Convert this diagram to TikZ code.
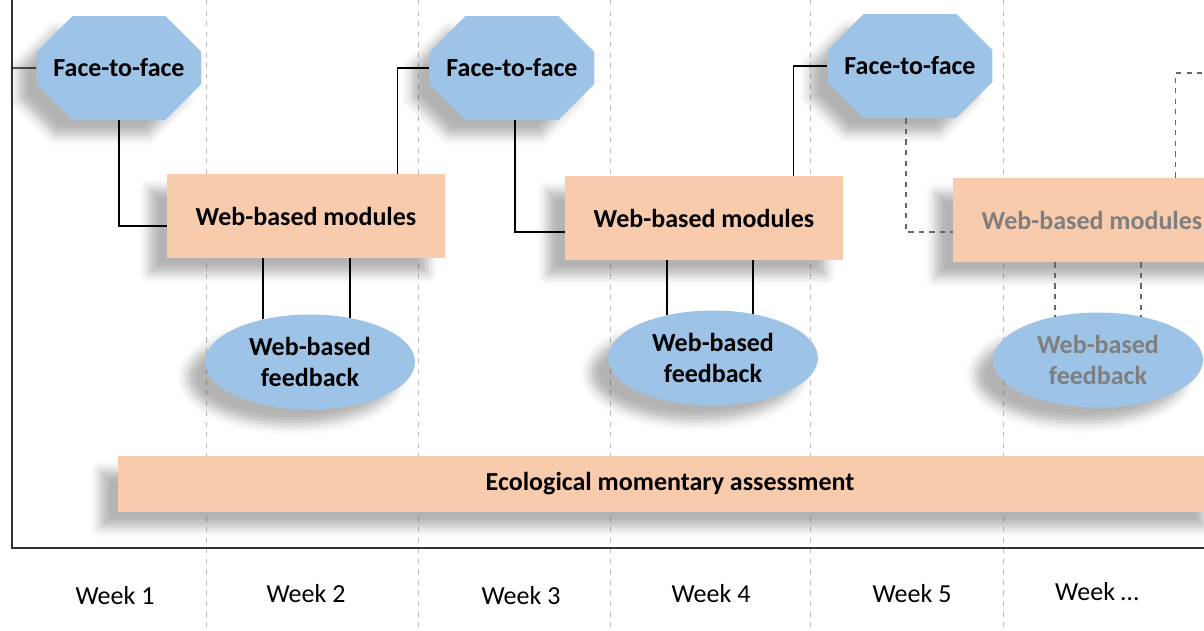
\documentclass[tikz,border=0pt]{standalone}
\usepackage{fontspec}
\setmainfont{Carlito}
\usetikzlibrary{calc}
\usetikzlibrary{shapes.misc}
\usetikzlibrary{shapes.geometric}
\usetikzlibrary{shadows.blur}
\definecolor{ftfblue}{RGB}{157,195,230}
\definecolor{modpeach}{RGB}{248,203,173}
\definecolor{fadetext}{RGB}{127,127,127}
\tikzset{
	softshadow/.style={blur shadow={shadow xshift=-0.35cm,shadow yshift=-0.3cm,shadow blur radius=0.2cm,shadow opacity=30}},
	octstyle/.style={chamfered rectangle,chamfered rectangle xsep=0.54cm,chamfered rectangle ysep=0.54cm,fill=ftfblue,minimum width=3.3cm,minimum height=2.08cm,inner sep=0pt,font=\bfseries,softshadow},
	modstyle/.style={rectangle,fill=modpeach,minimum width=5.56cm,minimum height=1.68cm,font=\bfseries,softshadow},
	feedstyle/.style={ellipse,fill=ftfblue,minimum width=4.2cm,minimum height=1.9cm,inner sep=0pt,align=center,font=\bfseries,softshadow},
	barstyle/.style={rectangle,fill=modpeach,minimum width=22.08cm,minimum height=1.12cm,font=\bfseries,softshadow},
	weekstyle/.style={font=\normalfont},
	gridstyle/.style={draw=black!25,dashed,line width=0.5pt},
	axisstyle/.style={draw=black!80,line width=1pt},
	linkstyle/.style={draw=black,line width=0.8pt},
	fadelink/.style={draw=black!60,dashed,line width=0.8pt}
}

\begin{document}
\begin{tikzpicture}[x=0.02cm,y=-0.02cm]
		\fontsize{14.8}{17.6}\selectfont
		\useasboundingbox (0,0) rectangle (1204,630);
		\clip (0,0) rectangle (1204,630);
		\foreach \gx in {206,418,610,810,1003}
			\draw[gridstyle] (\gx,0) -- (\gx,630);
		\coordinate (top) at (12,0);
		\coordinate (origin) at (12,548);
		\coordinate (right) at (1204,548);
		\coordinate (tick) at (12,68);
		\coordinate (next) at (1204,73);
		\draw[axisstyle] (top) -- (origin) -- (right);
		\node[octstyle] (f1) at (119,68) {Face-to-face};
		\node[octstyle] (f2) at (512,68) {Face-to-face};
		\node[octstyle] (f3) at (910,66) {Face-to-face};
		\node[modstyle] (m1) at (306,216) {Web-based modules};
		\node[modstyle] (m2) at (704,218) {Web-based modules};
		\node[modstyle,text=fadetext] (m3) at (1092,220) {Web-based modules};
		\node[feedstyle] (w1) at (310,362) {Web-based\\feedback};
		\node[feedstyle] (w2) at (713,358) {Web-based\\feedback};
		\node[feedstyle,text=fadetext] (w3) at (1098,360) {Web-based\\feedback};
		\node[barstyle] (ema) at (670,484) {Ecological momentary assessment};
		\node[weekstyle] (k1) at (115,596) {Week 1};
		\node[weekstyle] (k2) at (306,594) {Week 2};
		\node[weekstyle] (k3) at (521,596) {Week 3};
		\node[weekstyle] (k4) at (711,594) {Week 4};
		\node[weekstyle] (k5) at (912,594) {Week 5};
		\node[weekstyle] (k6) at (1097,592) {Week \dots};
		\draw[linkstyle] (tick) -- (f1);
		\draw[linkstyle] (f1.south) |- ($(m1.west)+(0,10)$);
		\draw[linkstyle] ($(m1.north east)+(-48,0)$) |- (f2.west);
		\draw[linkstyle] ($(m1.south)+(-43,0)$) -- ($(w1.north)+(-47,5)$);
		\draw[linkstyle] ($(m1.south)+(44,0)$) -- ($(w1.north)+(40,4)$);
		\draw[linkstyle] ($(f2.south)+(3,0)$) |- ($(m2.west)+(0,14)$);
		\draw[linkstyle] ($(m2.north east)+(-50,0)$) |- (f3.west);
		\draw[linkstyle] ($(m2.south)+(-37,0)$) -- ($(w2.north)+(-46,5)$);
		\draw[linkstyle] ($(m2.south)+(49,0)$) -- ($(w2.north)+(40,4)$);
		\draw[fadelink] ($(f3.south)+(-4,0)$) |- ($(m3.west)+(0,12)$);
		\draw[fadelink] ($(m3.north east)+(-56,0)$) |- (next);
		\draw[fadelink] ($(m3.south)+(-37,0)$) -- ($(w3.north)+(-43,5)$);
		\draw[fadelink] ($(m3.south)+(49,0)$) -- ($(w3.north)+(43,5)$);
\end{tikzpicture}
\end{document}
